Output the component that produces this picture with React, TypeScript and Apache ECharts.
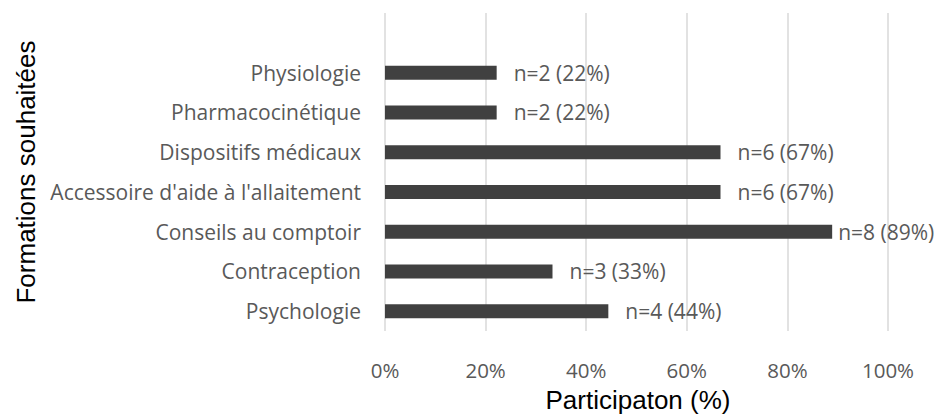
import React, { useEffect, useRef } from "react";
import * as echarts from "echarts";

// bottom-to-top order
const categories = [
  "Psychologie",
  "Contraception",
  "Conseils au comptoir",
  "Accessoire d'aide à l'allaitement",
  "Dispositifs médicaux",
  "Pharmacocinétique",
  "Physiologie",
];
const counts = [4, 3, 8, 6, 6, 2, 2];
const percents = [44.4, 33.3, 88.9, 66.7, 66.7, 22.2, 22.2];
const tickValues = [0, 20, 40, 60, 80, 100];
const xTitle = "Participaton (%)";
const yTitle = "Formations souhaitées";

export default function App() {
  const ref = useRef<HTMLDivElement>(null);
  useEffect(() => {
    if (!ref.current) return;
    const chart = echarts.init(ref.current, null, { renderer: "svg" });
    const font = "'Open Sans', sans-serif";
    const titleFont = "'Liberation Sans', Arial, sans-serif";
    chart.setOption({
      animation: false,
      grid: { left: 385, right: 48, top: 13, height: 318 },
      xAxis: {
        type: "value",
        min: tickValues[0],
        max: tickValues[tickValues.length - 1],
        interval: 20,
        axisLine: { show: false },
        axisTick: { show: false },
        splitLine: { lineStyle: { color: "#d9d9d9", width: 1.5 } },
        axisLabel: {
          formatter: "{value}%",
          color: "#595959",
          fontSize: 20.5,
          fontFamily: font,
          margin: 28,
        },
      },
      yAxis: {
        type: "category",
        data: [...categories, ""],
        axisLine: { show: false },
        axisTick: { show: false },
        splitLine: { show: false },
        axisLabel: {
          color: "#595959",
          fontSize: 21,
          fontFamily: font,
          margin: 24,
        },
      },
      graphic: [
        {
          type: "text",
          x: 638,
          y: 400,
          style: {
            text: xTitle,
            fontSize: 26,
            fontFamily: titleFont,
            fill: "#000",
            textAlign: "center",
            textVerticalAlign: "middle",
          },
        },
        {
          type: "text",
          x: 26,
          y: 172,
          rotation: Math.PI / 2,
          style: {
            text: yTitle,
            fontSize: 26,
            fontFamily: titleFont,
            fill: "#000",
            textAlign: "center",
            textVerticalAlign: "middle",
          },
        },
      ],
      series: [
        {
          type: "bar",
          barWidth: 14,
          itemStyle: { color: "#404040" },
          data: percents.map((v, i) => ({
            value: v,
            label: {
              show: true,
              position: "right",
              distance: v > 80 ? 6 : 17,
              formatter: `n=${counts[i]} (${Math.round(v)}%)`,
              color: "#595959",
              fontSize: 21,
              fontFamily: font,
            },
          })),
        },
      ],
    });
    return () => chart.dispose();
  }, []);
  return <div ref={ref} style={{ width: 936, height: 416, position: "absolute", left: 0, top: 0 }} />;
}
